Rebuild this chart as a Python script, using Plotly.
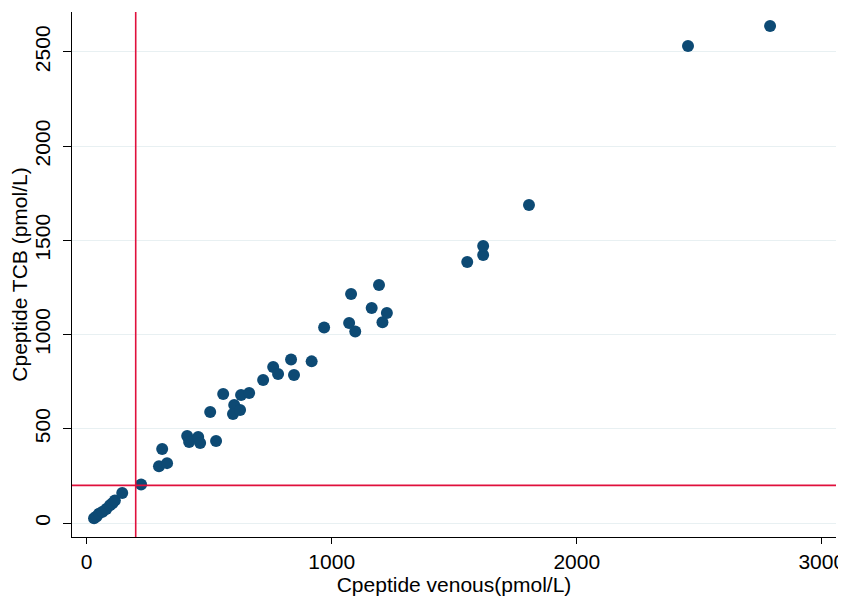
import plotly.graph_objects as go

venous = [30, 40, 50, 65, 80, 95, 105, 115, 145, 222,
          295, 328, 308, 410, 418, 455, 463, 528, 504, 557,
          602, 597, 626, 630, 663, 720, 761, 781, 846, 834,
          918, 969, 1071, 1079, 1096, 1163, 1193, 1207, 1225,
          1553, 1618, 1618, 1805, 2454, 2789]
tcb = [25, 35, 50, 60, 75, 95, 105, 120, 160, 205,
       302, 318, 393, 462, 430, 457, 425, 435, 589, 685,
       626, 579, 600, 679, 690, 759, 828, 791, 786, 868,
       858, 1038, 1062, 1216, 1017, 1141, 1263, 1065, 1115,
       1385, 1423, 1470, 1688, 2532, 2638]
cutoff = 200
x_ticks = [0, 1000, 2000, 3000]
y_ticks = [0, 500, 1000, 1500, 2000, 2500]

font = "Liberation Sans, Arial, Helvetica, sans-serif"

fig = go.Figure()
fig.add_trace(go.Scatter(
    x=venous, y=tcb, mode="markers",
    marker=dict(size=12, color="#0d4a74", line=dict(width=0)),
    showlegend=False, cliponaxis=False))

fig.add_vline(x=cutoff, line=dict(color="#e0103c", width=1.6), layer="above")
fig.add_hline(y=cutoff, line=dict(color="#e0103c", width=1.6), layer="above")

# page body has an 8px default margin; compensate so the plot lands where the reference has it
fig.update_layout(
    width=838, height=588,
    margin=dict(l=64, r=10, t=4, b=59),
    paper_bgcolor="white", plot_bgcolor="white",
    font=dict(family=font, size=21, color="black"),
    xaxis=dict(range=[-60, 3058], tickvals=x_ticks, showgrid=False, automargin=False,
               zeroline=False, showline=True, linecolor="black", linewidth=1.2,
               ticks="outside", ticklen=6, tickcolor="black", tickwidth=1.2,
               tickfont=dict(size=21),
               title=dict(text="Cpeptide venous(pmol/L)", font=dict(size=21), standoff=2)),
    yaxis=dict(range=[-74, 2712], tickvals=y_ticks, showgrid=True, automargin=False,
               gridcolor="#e8f0f2", gridwidth=1.2,
               zeroline=False, showline=True, linecolor="black", linewidth=1.2,
               ticks="outside", ticklen=8, tickcolor="black", tickwidth=1.2,
               tickangle=-90, tickfont=dict(size=21), ticklabelstandoff=5,
               title=dict(text="Cpeptide TCB (pmol/L)", font=dict(size=21), standoff=12)),
)

fig.write_html("out.html")
